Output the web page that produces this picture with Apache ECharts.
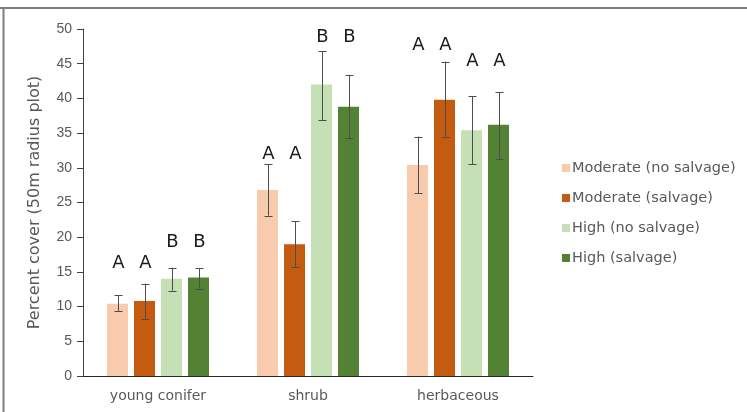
<!DOCTYPE html>
<html><head><meta charset="utf-8">
<script src="https://cdn.jsdelivr.net/npm/echarts@6/dist/echarts.min.js"></script>
<style>html,body{margin:0;padding:0;background:#fff;}#c{width:747px;height:412px;}</style>
</head><body><div id="c"></div>
<script>
const categories = ['young conifer', 'shrub', 'herbaceous'];
const seriesNames = ['Moderate (no salvage)', 'Moderate (salvage)', 'High (no salvage)', 'High (salvage)'];
const colors = ['#F8CBAD', '#C55A11', '#C5E0B4', '#548235'];
const yTicks = [0, 5, 10, 15, 20, 25, 30, 35, 40, 45, 50];

const modNoSalvage = [10.4, 26.8, 30.4];
const modSalvage = [10.8, 19.0, 39.8];
const highNoSalvage = [14.0, 42.0, 35.4];
const highSalvage = [14.2, 38.8, 36.2];

const modNoSalvageLow = [9.3, 23.1, 26.3];
const modNoSalvageHigh = [11.6, 30.5, 34.5];
const modSalvageLow = [8.2, 15.7, 34.5];
const modSalvageHigh = [13.3, 22.3, 45.3];
const highNoSalvageLow = [12.3, 36.9, 30.5];
const highNoSalvageHigh = [15.6, 46.8, 40.3];
const highSalvageLow = [12.6, 34.3, 31.3];
const highSalvageHigh = [15.5, 43.4, 40.9];

const modNoSalvageLetters = ['A', 'A', 'A'];
const modSalvageLetters = ['A', 'A', 'A'];
const highNoSalvageLetters = ['B', 'B', 'A'];
const highSalvageLetters = ['B', 'B', 'A'];
const letterHeightsModerate = [16.3, 31.9, 47.6];
const letterHeightsHigh = [19.2, 48.8, 45.3];

const means = [modNoSalvage, modSalvage, highNoSalvage, highSalvage];
const lows = [modNoSalvageLow, modSalvageLow, highNoSalvageLow, highSalvageLow];
const highs = [modNoSalvageHigh, modSalvageHigh, highNoSalvageHigh, highSalvageHigh];
const letters = [modNoSalvageLetters, modSalvageLetters, highNoSalvageLetters, highSalvageLetters];
const letterHeights = [letterHeightsModerate, letterHeightsModerate, letterHeightsHigh, letterHeightsHigh];

const BAR_W = 21, GAP = 6;
const FONT = '"Liberation Sans", Arial, sans-serif';
const WIDE = '"DejaVu Sans", sans-serif';
const chart = echarts.init(document.getElementById('c'));

const series = [];
seriesNames.forEach((name, i) => {
  series.push({
    name, type: 'bar', data: means[i], barWidth: BAR_W, barGap: (GAP / BAR_W * 100) + '%',
    itemStyle: { color: colors[i] }
  });
});
seriesNames.forEach((name, i) => {
  const offset = (i - 1.5) * (BAR_W + GAP);
  series.push({
    type: 'custom', silent: true, z: 10,
    data: categories.map((c, k) => [k, lows[i][k], highs[i][k], letterHeights[i][k]]),
    renderItem: (params, api) => {
      const k = api.value(0);
      const lo = api.coord([k, api.value(1)]);
      const hi = api.coord([k, api.value(2)]);
      const lt = api.coord([k, api.value(3)]);
      const x = Math.round(lo[0] + offset) + 0.5;
      const cap = 4;
      const st = { stroke: '#4d4d4d', lineWidth: 1 };
      return {
        type: 'group', children: [
          { type: 'line', shape: { x1: x, y1: hi[1], x2: x, y2: lo[1] }, style: st },
          { type: 'line', shape: { x1: x - cap, y1: Math.round(hi[1]) + 0.5, x2: x + cap, y2: Math.round(hi[1]) + 0.5 }, style: st },
          { type: 'line', shape: { x1: x - cap, y1: Math.round(lo[1]) + 0.5, x2: x + cap, y2: Math.round(lo[1]) + 0.5 }, style: st },
          { type: 'text', style: { x: x, y: lt[1], text: letters[i][params.dataIndex], fill: '#1a1a1a', font: '18px ' + WIDE, align: 'center', verticalAlign: 'middle' } }
        ]
      };
    }
  });
});

chart.setOption({
  animation: false,
  color: colors,
  textStyle: { fontFamily: FONT },
  grid: { left: 83, right: 214, top: 29, bottom: 36, containLabel: false },
  legend: {
    data: seriesNames, orient: 'vertical', left: 557, top: 155,
    itemWidth: 8, itemHeight: 8, itemGap: 14, icon: 'rect',
    textStyle: { color: '#595959', fontSize: 14.5, fontFamily: WIDE, lineHeight: 16, padding: [0, 0, 0, -3] }
  },
  xAxis: {
    type: 'category', data: categories,
    axisLine: { lineStyle: { color: '#262626', width: 1 } },
    axisTick: { show: false },
    axisLabel: { color: '#595959', fontSize: 14, margin: 13, fontFamily: WIDE }
  },
  yAxis: {
    type: 'value', min: yTicks[0], max: yTicks[yTicks.length - 1], interval: 5,
    name: 'Percent cover (50m radius plot)', nameLocation: 'middle', nameGap: 40, nameRotate: 90,
    nameTextStyle: { color: '#595959', fontSize: 16, fontFamily: WIDE },
    axisLine: { show: true, lineStyle: { color: '#404040', width: 1 } },
    axisTick: { show: true, length: 6, lineStyle: { color: '#404040' } },
    splitLine: { show: false },
    axisLabel: { color: '#595959', fontSize: 14, margin: 11, fontFamily: FONT }
  },
  graphic: [
    { type: 'line', shape: { x1: 0, y1: 8, x2: 747, y2: 8 }, style: { stroke: '#7f7f7f', lineWidth: 2 } },
    { type: 'line', shape: { x1: 3.5, y1: 8, x2: 3.5, y2: 412 }, style: { stroke: '#7f7f7f', lineWidth: 2 } }
  ],
  series
});
</script></body></html>
